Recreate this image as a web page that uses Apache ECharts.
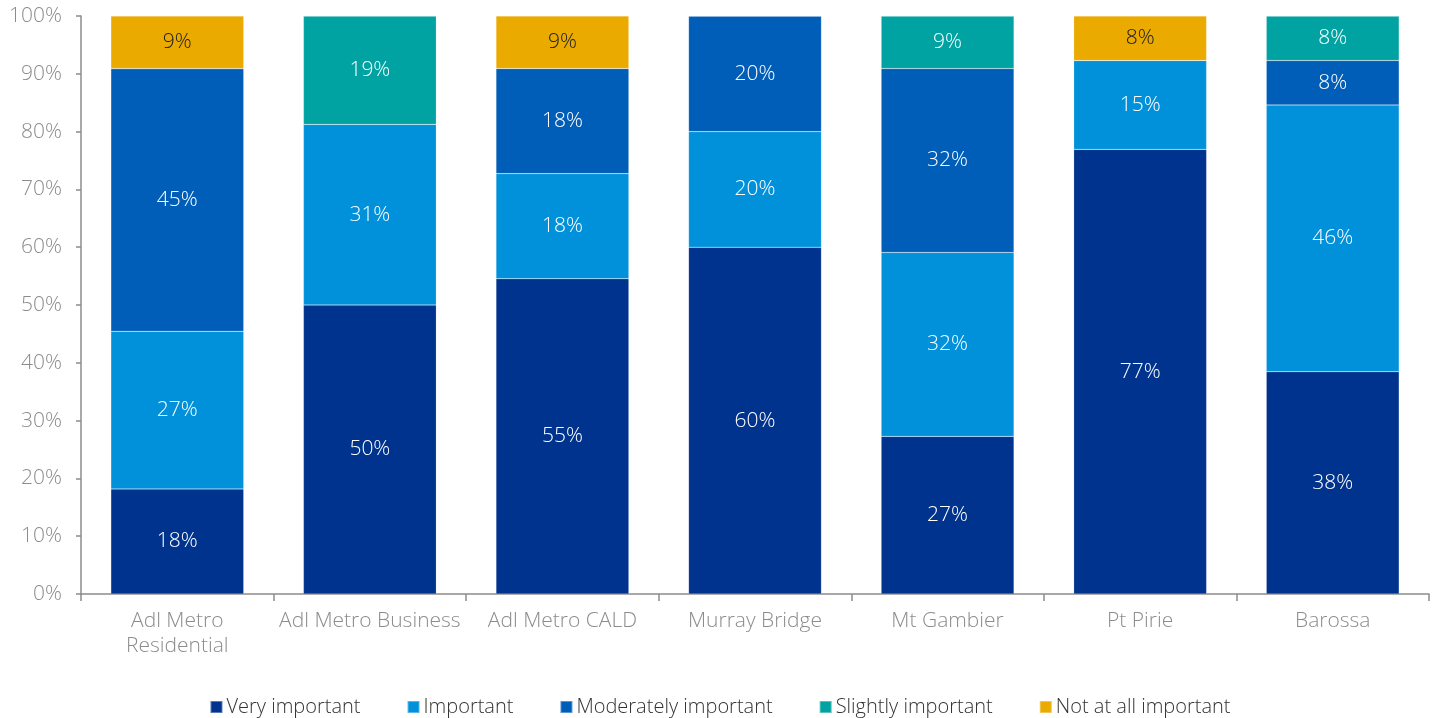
<!DOCTYPE html>
<html>
<head>
<meta charset="utf-8">
<script src="https://cdn.jsdelivr.net/npm/echarts@6/dist/echarts.min.js"></script>
<style>
  html, body { margin: 0; padding: 0; background: #fff; }
  #chart { width: 1440px; height: 718px; }
</style>
</head>
<body>
<div id="chart"></div>
<script>
// Share of respondents (%) per region, by importance rating
const categories = ['Adl Metro\nResidential', 'Adl Metro Business', 'Adl Metro CALD', 'Murray Bridge', 'Mt Gambier', 'Pt Pirie', 'Barossa'];
const veryImportant       = [18.18, 50.00, 54.55, 60.00, 27.27, 76.92, 38.46];
const important           = [27.27, 31.25, 18.18, 20.00, 31.82, 15.38, 46.15];
const moderatelyImportant = [45.45,  0,    18.18, 20.00, 31.82,  0,     7.69];
const slightlyImportant   = [ 0,    18.75,  0,     0,     9.09,  0,     7.69];
const notAtAllImportant   = [ 9.09,  0,     9.09,  0,     0,     7.69,  0];
const yTicks = ['0%', '10%', '20%', '30%', '40%', '50%', '60%', '70%', '80%', '90%', '100%'];

const FONT = '"Open Sans"';
const seriesDefs = [
  { name: 'Very important',       data: veryImportant,       color: '#00338D', text: '#ffffff' },
  { name: 'Important',            data: important,           color: '#0091DA', text: '#ffffff' },
  { name: 'Moderately important', data: moderatelyImportant, color: '#005EB8', text: '#ffffff' },
  { name: 'Slightly important',   data: slightlyImportant,   color: '#00A3A1', text: '#ffffff' },
  { name: 'Not at all important', data: notAtAllImportant,   color: '#EAAA00', text: '#222222' }
];

const chart = echarts.init(document.getElementById('chart'), null, { renderer: 'canvas' });
chart.setOption({
  animation: false,
  textStyle: { fontFamily: FONT },
  grid: { left: 81, right: 11, top: 16, bottom: 124, containLabel: false },
  legend: {
    top: 692,
    left: 'center',
    itemWidth: 12,
    itemHeight: 12,
    itemGap: 46,
    icon: 'rect',
    textStyle: { fontFamily: FONT, fontSize: 20, color: '#333', fontWeight: 300, padding: [0, 0, 0, -1] },
    data: seriesDefs.map(s => s.name)
  },
  xAxis: {
    type: 'category',
    data: categories,
    axisLine: { show: true, lineStyle: { color: '#8c8c8c', width: 1.5 } },
    axisTick: { show: true, alignWithLabel: false, length: 7, lineStyle: { color: '#8c8c8c', width: 1.5 } },
    axisLabel: { color: '#8c8c8c', fontSize: 21, fontFamily: FONT, fontWeight: 300, margin: 15, lineHeight: 25, interval: 0 }
  },
  yAxis: {
    type: 'value',
    min: 0,
    max: 100,
    interval: 10,
    axisLine: { show: true, lineStyle: { color: '#8c8c8c', width: 1.5 } },
    axisTick: { show: true, inside: false, length: 5, lineStyle: { color: '#8c8c8c', width: 1.5 } },
    splitLine: { show: false },
    axisLabel: {
      color: '#8c8c8c', fontSize: 21, fontFamily: FONT, fontWeight: 300, margin: 19,
      formatter: (v) => yTicks[Math.round(v / 10)]
    }
  },
  series: seriesDefs.map(s => ({
    name: s.name,
    type: 'bar',
    stack: 'total',
    barWidth: '69%',
    itemStyle: { color: s.color, borderColor: 'rgba(255,255,255,0.35)', borderWidth: 0.5 },
    label: {
      show: true,
      position: 'inside',
      color: s.text,
      fontSize: 21,
      fontFamily: FONT,
      fontWeight: 300,
      formatter: (p) => p.value > 0 ? Math.round(p.value) + '%' : ''
    },
    data: s.data
  }))
});
</script>
</body>
</html>
